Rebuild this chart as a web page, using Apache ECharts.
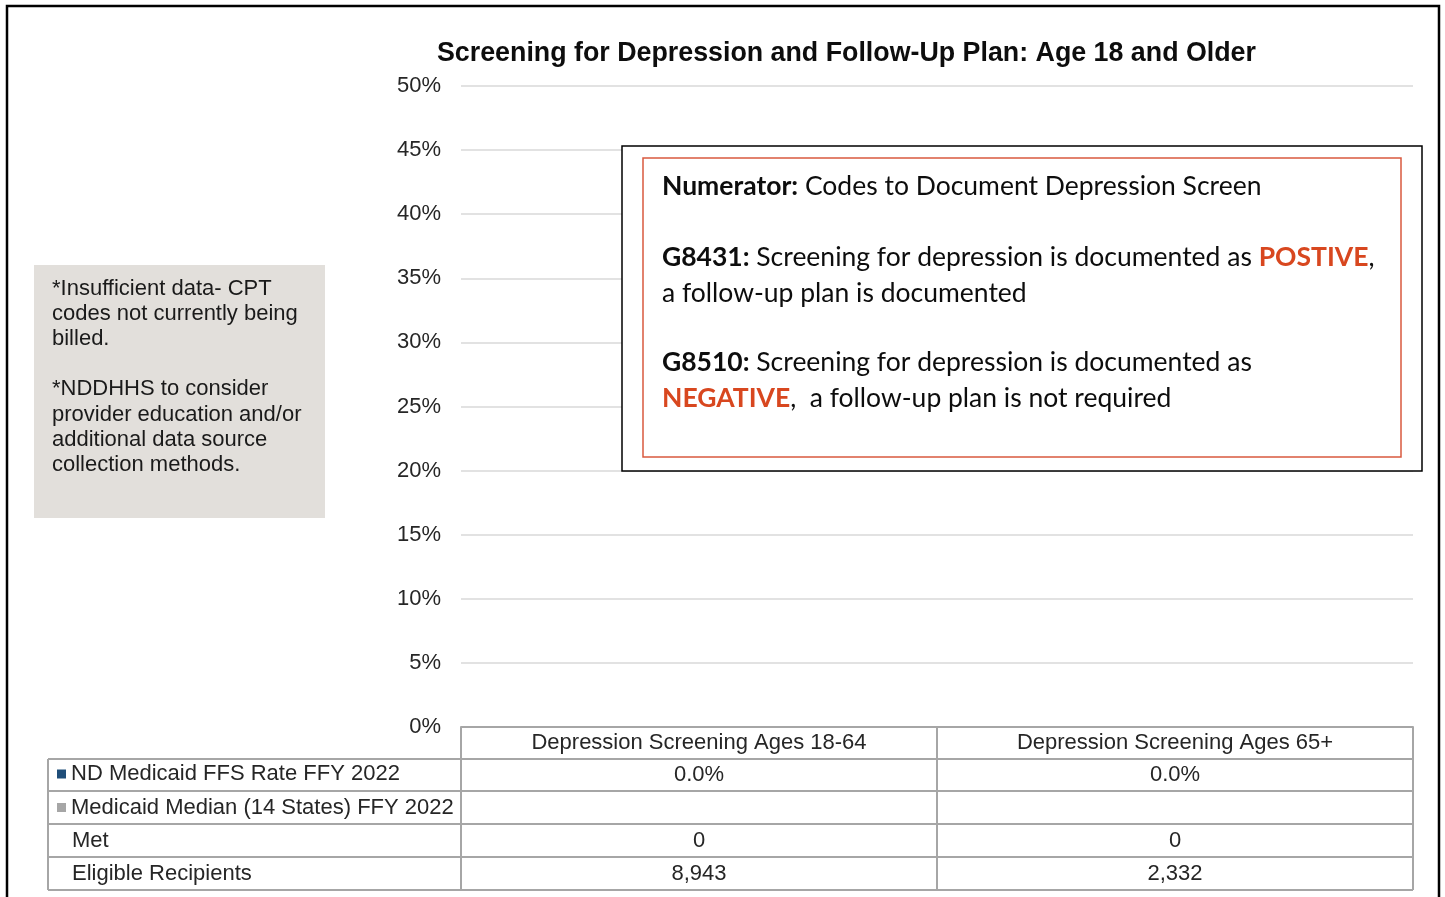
<!DOCTYPE html>
<html>
<head>
    <meta charset="utf-8">
    <title>Screening for Depression</title>
    <script src="https://cdn.jsdelivr.net/npm/echarts@6/dist/echarts.min.js"></script>
    <style>
        body { margin: 0; background: #fff; }
    </style>
</head>
<body>
<div id="main" style="width: 1445px;height:897px;"></div>

<script>
    // data
    var categories = ['Depression Screening Ages 18-64', 'Depression Screening Ages 65+'];
    var seriesNames = ['ND Medicaid FFS Rate FFY 2022', 'Medicaid Median (14 States) FFY 2022'];
    var ndRate = [0, 0];
    var medianRate = [null, null];
    var metCounts = [0, 0];
    var eligibleCounts = [8943, 2332];
    var seriesColors = ['#1f4e79', '#a6a6a6'];

    var gridLeft = 461, gridRight = 32, gridTop = 86, gridBottom = 170;
    var W = 1445, H = 897;
    var textFont = 'Liberation Sans, Arial, sans-serif';
    var noteFont = 'Lato, Open Sans, sans-serif';
    var red = '#d8471f';

    var myChart = echarts.init(document.getElementById('main'));

    var option = {
        animation: false,
        title: {
            text: 'Screening for Depression and Follow-Up Plan: Age 18 and Older',
            left: 432,
            top: 35,
            textStyle: { fontFamily: textFont, fontSize: 26.8, fontWeight: 'bold', color: '#0d0d0d' }
        },
        legend: {
            data: seriesNames,
            orient: 'vertical',
            left: 57,
            top: 763,
            padding: 0,
            itemGap: 11.5,
            itemWidth: 9,
            itemHeight: 9,
            icon: 'rect',
            textStyle: { fontFamily: textFont, fontSize: 22, color: '#262626' }
        },
        grid: { left: gridLeft, right: gridRight, top: gridTop, bottom: gridBottom },
        xAxis: {
            type: 'category',
            data: categories,
            axisLine: { lineStyle: { color: '#a6a6a6', width: 2 } },
            axisTick: { show: false },
            axisLabel: { fontFamily: textFont, fontSize: 22, color: '#262626', margin: 5 }
        },
        yAxis: {
            type: 'value',
            min: 0,
            max: 0.5,
            interval: 0.05,
            axisLine: { show: false },
            axisTick: { show: false },
            axisLabel: {
                fontFamily: textFont, fontSize: 22, color: '#262626', margin: 20,
                formatter: function (v) { return Math.round(v * 100) + '%'; }
            },
            splitLine: { lineStyle: { color: '#d9d9d9', width: 1.5 } }
        },
        series: [
            { name: seriesNames[0], type: 'bar', data: ndRate, itemStyle: { color: seriesColors[0] } },
            { name: seriesNames[1], type: 'bar', data: medianRate, itemStyle: { color: seriesColors[1] } }
        ]
    };
    myChart.setOption(option);

    // data table under the axis + text boxes
    var g = [];
    var lineColor = '#a6a6a6';
    var x0 = 48, x1 = gridLeft, x2 = W - gridRight;
    var rowY = [727, 759, 791, 824, 857, 890];
    var band = (x2 - x1) / categories.length;

    function hline(y, a, b) {
        g.push({ type: 'line', shape: { x1: a, y1: y, x2: b, y2: y }, style: { stroke: lineColor, lineWidth: 2 }, z: 100 });
    }
    function vline(x, a, b) {
        g.push({ type: 'line', shape: { x1: x, y1: a, x2: x, y2: b }, style: { stroke: lineColor, lineWidth: 2 }, z: 100 });
    }
    for (var r = 1; r < rowY.length; r++) hline(rowY[r], x0, x2);
    vline(x0, rowY[1], rowY[5]);
    for (var c = 0; c <= categories.length; c++) vline(x1 + c * band, rowY[0], rowY[5]);

    var rowLabels = [null, null, 'Met', 'Eligible Recipients'];
    for (var k = 2; k < 4; k++) {
        g.push({ type: 'text', x: 72, y: (rowY[k + 1] + rowY[k + 2]) / 2, z: 100,
            style: { text: rowLabels[k], font: '22px ' + textFont, fill: '#262626', textVerticalAlign: 'middle' } });
    }
    var rows = [
        ndRate.map(function (v) { return v == null ? '' : (v * 100).toFixed(1) + '%'; }),
        medianRate.map(function (v) { return v == null ? '' : (v * 100).toFixed(1) + '%'; }),
        metCounts.map(function (v) { return v.toLocaleString('en-US'); }),
        eligibleCounts.map(function (v) { return v.toLocaleString('en-US'); })
    ];
    rows.forEach(function (vals, ri) {
        vals.forEach(function (t, ci) {
            var cx = myChart.convertToPixel({ xAxisIndex: 0 }, categories[ci]);
            g.push({ type: 'text', x: cx, y: (rowY[ri + 1] + rowY[ri + 2]) / 2, z: 100,
                style: { text: t, font: '22px ' + textFont, fill: '#262626', textAlign: 'center', textVerticalAlign: 'middle' } });
        });
    });

    // outer frame
    g.push({ type: 'rect', shape: { x: 7, y: 6, width: 1432, height: 905 }, style: { fill: 'none', stroke: '#000', lineWidth: 2.5 }, z: 100 });

    // grey note
    g.push({ type: 'rect', shape: { x: 34, y: 265, width: 291, height: 253 }, style: { fill: '#e2dfdb' }, z: 100 });
    g.push({ type: 'text', x: 52, y: 276, z: 101,
        style: {
            text: '*Insufficient data- CPT\ncodes not currently being\nbilled.\n\n*NDDHHS to consider\nprovider education and/or\nadditional data source\ncollection methods.',
            font: '22px ' + textFont, fill: '#1a1a1a', lineHeight: 25.2
        } });

    // numerator box
    g.push({ type: 'rect', shape: { x: 622, y: 146, width: 800, height: 325 }, style: { fill: '#fff', stroke: '#000', lineWidth: 1.5 }, z: 100 });
    g.push({ type: 'rect', shape: { x: 643, y: 158, width: 758, height: 299 }, style: { fill: 'none', stroke: '#d9593f', lineWidth: 1.5 }, z: 101 });
    var rich = {
        n: { fontFamily: noteFont, fontSize: 26.5, fill: '#0d0d0d' },
        b: { fontFamily: noteFont, fontSize: 26.5, fontWeight: 'bold', fill: '#0d0d0d' },
        r: { fontFamily: noteFont, fontSize: 26.5, fontWeight: 'bold', fill: red }
    };
    var noteLines = [
        [186, '{b|Numerator:}{n| Codes to Document Depression Screen}'],
        [257, '{b|G8431:}{n| Screening for depression is documented as }{r|POSTIVE}{n|,}'],
        [293, '{n|a follow-up plan is documented}'],
        [362, '{b|G8510:}{n| Screening for depression is documented as}'],
        [398, '{r|NEGATIVE}{n|,  a follow-up plan is not required}']
    ];
    noteLines.forEach(function (l) {
        g.push({ type: 'text', x: 662, y: l[0], z: 102,
            style: { text: l[1], rich: rich, textVerticalAlign: 'middle', verticalAlign: 'middle' } });
    });

    myChart.setOption({ graphic: g });
</script>
</body>
</html>
